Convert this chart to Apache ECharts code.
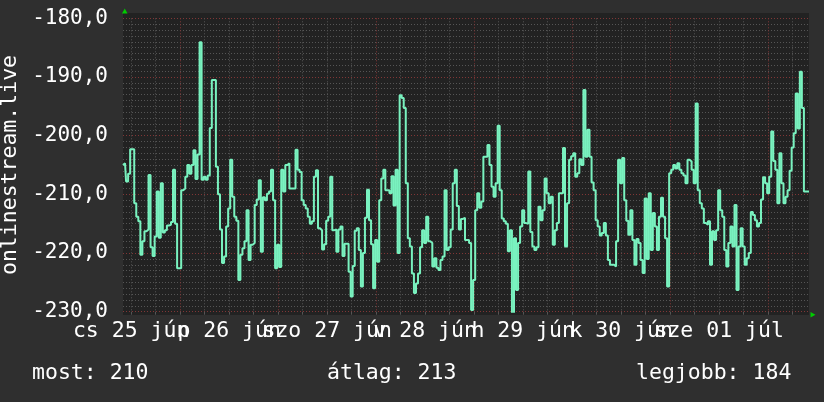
<!DOCTYPE html>
<html>
<head>
<meta charset="utf-8">
<script src="https://cdn.jsdelivr.net/npm/echarts@6/dist/echarts.min.js"></script>
<style>
  html, body { margin: 0; padding: 0; background: #2f2f2f; }
  #chart { width: 824px; height: 402px; }
</style>
</head>
<body>
<div id="chart"></div>
<script>
// one value every 30 minutes, 2020-06-25 10:00 .. 2020-07-02 10:00
var startTime = '2020-06-25 10:00';
var dayLabels = ['cs 25 jún', 'p 26 jún', 'szo 27 jún', 'v 28 jún', 'h 29 jún', 'k 30 jún', 'sze 01 júl'];
var latency = [
  -205.0, -204.7, -207.8, -206.5, -202.3, -202.3, -211.5, -213.8, -214.6, -220.3,
  -218.0, -216.3, -216.0, -206.7, -219.0, -220.5, -217.2, -209.5, -217.4, -208.1,
  -216.5, -216.1, -215.3, -215.2, -214.7, -205.8, -215.0, -222.6, -222.6, -209.3,
  -209.0, -207.0, -205.0, -206.5, -205.0, -202.5, -207.4, -203.2, -184.1, -207.5,
  -207.0, -207.5, -206.8, -198.7, -190.5, -190.5, -205.3, -210.0, -216.0, -221.7,
  -220.6, -215.5, -212.4, -204.1, -210.4, -213.8, -214.5, -224.6, -220.3, -219.2,
  -218.0, -212.7, -221.2, -218.6, -218.3, -211.8, -210.9, -207.6, -219.8, -210.5,
  -211.0, -209.9, -209.5, -205.8, -211.0, -222.6, -218.6, -222.4, -205.8, -209.5,
  -205.0, -204.7, -209.0, -209.0, -209.0, -202.4, -205.8, -206.2, -211.0, -211.8,
  -212.4, -213.8, -215.0, -214.6, -207.0, -205.9, -215.8, -216.1, -219.4, -218.5,
  -214.5, -213.8, -207.0, -216.1, -216.0, -219.8, -216.0, -215.5, -220.5, -218.4,
  -218.4, -223.2, -227.4, -222.2, -216.2, -215.8, -219.5, -225.7, -220.0, -214.0,
  -209.2, -214.4, -218.5, -226.0, -217.8, -221.5, -211.0, -207.3, -205.8, -209.3,
  -209.3, -209.8, -206.9, -211.9, -205.8, -220.0, -193.1, -193.6, -195.3, -208.1,
  -217.5, -218.9, -223.5, -226.8, -225.2, -223.5, -219.0, -216.1, -218.3, -213.8,
  -218.0, -218.3, -222.3, -220.9, -222.5, -222.9, -221.2, -220.6, -209.3, -219.5,
  -219.0, -216.0, -208.1, -205.8, -212.0, -216.0, -214.2, -214.0, -217.8, -217.8,
  -218.3, -229.7, -224.6, -212.7, -209.8, -212.3, -211.2, -203.6, -203.6, -201.6,
  -205.0, -208.7, -210.4, -208.1, -198.3, -209.3, -214.1, -214.6, -215.0, -219.7,
  -216.1, -230.3, -217.5, -226.3, -218.3, -215.5, -212.7, -214.9, -215.0, -206.1,
  -216.4, -218.9, -219.5, -219.0, -212.1, -214.4, -212.7, -207.3, -209.8, -211.5,
  -210.4, -218.6, -216.1, -214.9, -209.8, -209.8, -202.1, -218.9, -211.5, -204.1,
  -203.5, -203.0, -207.0, -206.4, -204.0, -205.0, -192.2, -203.6, -199.0, -203.6,
  -208.0, -209.3, -214.4, -215.5, -217.0, -216.6, -214.9, -217.0, -221.2, -222.0,
  -222.0, -222.3, -218.0, -204.1, -208.1, -203.8, -211.0, -214.5, -216.9, -212.7,
  -217.8, -222.0, -217.6, -218.3, -221.2, -223.4, -210.7, -221.0, -209.8, -219.5,
  -213.2, -215.5, -219.5, -213.8, -210.6, -213.8, -217.5, -225.7, -206.4, -205.8,
  -205.0, -205.6, -204.7, -205.8, -206.4, -206.8, -208.1, -204.1, -204.4, -205.8,
  -208.1, -194.5, -209.3, -211.5, -212.4, -214.9, -215.2, -214.6, -222.0, -216.3,
  -217.8, -216.1, -209.3, -212.7, -213.8, -219.5, -222.3, -218.3, -215.5, -218.9,
  -211.8, -226.3, -218.9, -215.8, -218.9, -222.0, -220.9, -220.0, -213.0, -213.5,
  -214.4, -215.5, -214.9, -210.9, -207.1, -208.1, -209.8, -207.0, -199.3, -204.3,
  -205.8, -211.5, -203.0, -208.1, -211.5, -210.4, -209.3, -206.0, -202.0, -199.6,
  -192.8, -198.8, -189.1, -195.3, -209.5, -209.5, -209.5
];
var statLabels = ['most', 'átlag', 'legjobb'];
var statValues = [210, 213, 184];
var yMin = -230, yMax = -180, yStep = 10;

var times = [];
var t0 = new Date(startTime.replace(' ', 'T') + ':00Z').getTime();
for (var i = 0; i < latency.length; i++) {
  times.push(new Date(t0 + i * 1800000).toISOString().slice(0, 16).replace('T', ' '));
}

var mono = "'DejaVu Sans Mono', monospace";
var gridGray = '#555555';
var gridRed = '#803636';
var statX = [32, 327, 636];

// noon of each day carries its label; days alternate between two axes so labels never collide
function dayIndex(i) { return (i - 4) / 48; }
function dayLabelStyle(parity) {
  return {
    interval: function (i) { return i % 48 === 4 && dayIndex(i) % 2 === parity; },
    formatter: function (v, i) { return dayLabels[dayIndex(i)]; },
    showMinLabel: true,
    showMaxLabel: true,
    hideOverlap: false,
    color: '#ffffff',
    fontFamily: mono,
    fontSize: 21.5,
    margin: 9
  };
}

var chart = echarts.init(document.getElementById('chart'));

var option = {
  backgroundColor: '#2f2f2f',
  animation: false,
  grid: [
    { left: 123, right: 15, top: 18.3, bottom: 90.3, outerBoundsMode: 'none', containLabel: false },
    { left: 123, right: 15, top: 13, bottom: 87, outerBoundsMode: 'none', containLabel: false,
      show: true, backgroundColor: '#222222', borderWidth: 0, z: -1 }
  ],
  xAxis: [
    {
      type: 'category',
      gridIndex: 0,
      position: 'bottom',
      data: times,
      boundaryGap: false,
      axisLine: { show: false },
      axisTick: {
        show: true,
        interval: function (i) { return i % 12 === 4; },
        length: 3,
        lineStyle: { color: gridGray }
      },
      axisLabel: dayLabelStyle(0),
      splitLine: {
        show: true,
        interval: function (i) { return i % 12 === 4 && i % 48 !== 28; },
        lineStyle: { color: gridGray, type: [1, 2] }
      }
    },
    {
      type: 'category',
      gridIndex: 0,
      position: 'bottom',
      offset: 0,
      data: times,
      boundaryGap: false,
      axisLine: { show: false },
      axisTick: { show: false },
      axisLabel: dayLabelStyle(1),
      splitLine: {
        show: true,
        interval: function (i) { return i % 48 === 28; },
        lineStyle: { color: gridRed, type: [1, 2] }
      }
    }
  ],
  yAxis: [{
    type: 'value',
    gridIndex: 0,
    min: yMin,
    max: yMax,
    interval: yStep,
    name: 'onlinestream.live',
    nameLocation: 'middle',
    nameGap: 95,
    nameTextStyle: { color: '#ffffff', fontFamily: mono, fontSize: 21.5 },
    axisLine: { show: false },
    axisTick: { show: false },
    axisLabel: {
      color: '#ffffff',
      fontFamily: mono,
      fontSize: 21,
      margin: 15,
      formatter: function (v) { return v.toFixed(1).replace('.', ','); }
    },
    splitLine: { show: true, lineStyle: { color: gridRed, type: [1, 2] } },
    minorTick: { show: false, splitNumber: 10 },
    minorSplitLine: { show: true, lineStyle: { color: gridGray, type: [1, 2] } }
  }],
  series: [{
    name: 'onlinestream.live',
    type: 'line',
    xAxisIndex: 0,
    yAxisIndex: 0,
    data: latency,
    step: 'middle',
    symbol: 'none',
    lineStyle: { color: '#79f2bf', width: 2 }
  }],
  graphic: [
    { type: 'polygon', shape: { points: [[122, 13.5], [127.5, 13.5], [124.75, 8.5]] }, style: { fill: '#00cc00' }, silent: true },
    { type: 'polygon', shape: { points: [[810.5, 312], [810.5, 317.5], [815.5, 314.75]] }, style: { fill: '#00cc00' }, silent: true }
  ].concat(statLabels.map(function (s, i) {
    return {
      type: 'text',
      x: statX[i],
      y: 373.5,
      silent: true,
      style: {
        text: s + ': ' + statValues[i],
        fill: '#ffffff',
        font: '21.5px ' + mono,
        align: 'left',
        verticalAlign: 'middle'
      }
    };
  }))
};

chart.setOption(option);
</script>
</body>
</html>
